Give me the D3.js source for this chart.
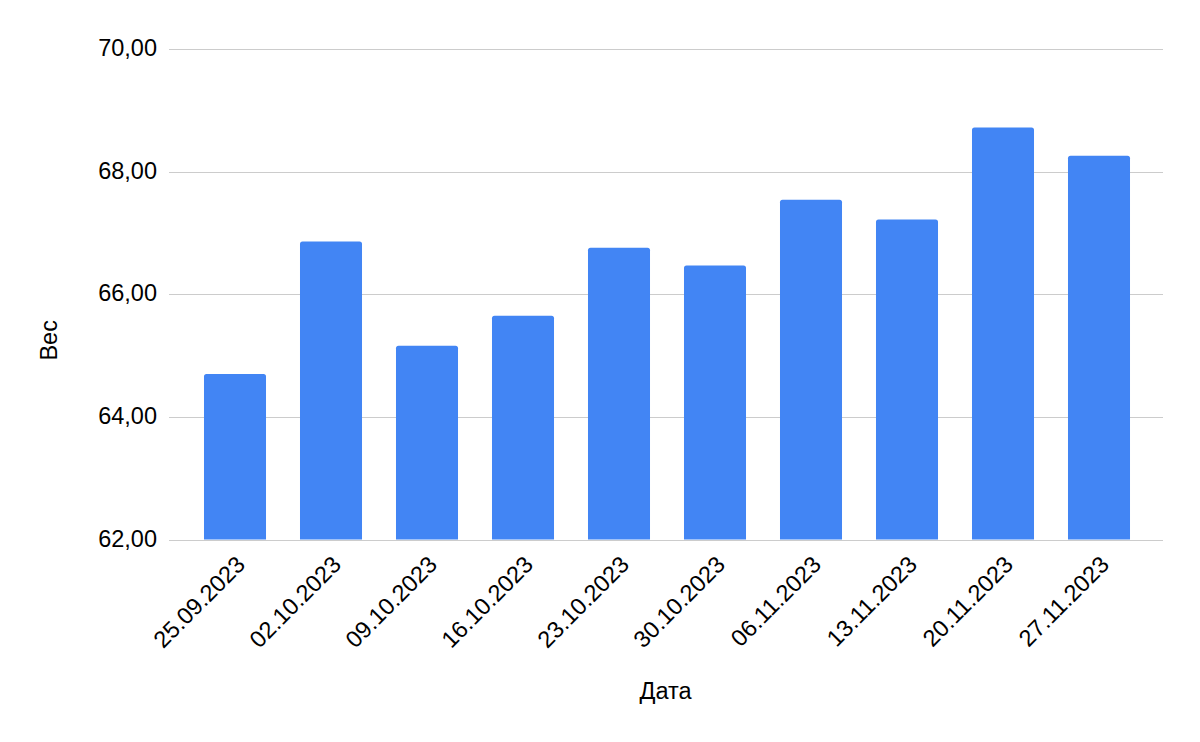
<!DOCTYPE html>
<html>
<head>
<meta charset="utf-8">
<script src="https://cdn.jsdelivr.net/npm/d3@7"></script>
<style>
  html, body { margin: 0; padding: 0; background: #fff; }
  svg { display: block; font-family: "Liberation Sans", Arial, sans-serif; }
</style>
</head>
<body>
<svg id="chart" width="1200" height="742"></svg>
<script>
const categories = ["25.09.2023", "02.10.2023", "09.10.2023", "16.10.2023", "23.10.2023",
                    "30.10.2023", "06.11.2023", "13.11.2023", "20.11.2023", "27.11.2023"];
const weights = [64.70, 66.86, 65.16, 65.65, 66.76, 66.47, 67.54, 67.22, 68.72, 68.26];
const yTicks = [62, 64, 66, 68, 70];
const xTitle = "Дата";
const yTitle = "Вес";

const svg = d3.select("#chart");
const plot = { left: 169, right: 1163, top: 49, bottom: 539.5 };
const fontSize = 23.5;

const x = d3.scaleBand()
  .domain(categories)
  .range([187, 1147])
  .paddingInner(0.354)
  .paddingOuter(0.177);

const y = d3.scaleLinear()
  .domain([62, 70])
  .range([plot.bottom, plot.top]);

const fmt = v => d3.format(".2f")(v).replace(".", ",");

// gridlines
svg.append("g")
  .selectAll("line")
  .data(yTicks)
  .join("line")
  .attr("x1", plot.left)
  .attr("x2", plot.right)
  .attr("y1", d => Math.round(y(d)) + 0.5)
  .attr("y2", d => Math.round(y(d)) + 0.5)
  .attr("stroke", "#cccccc")
  .attr("stroke-width", 1);

// y tick labels
svg.append("g")
  .selectAll("text")
  .data(yTicks)
  .join("text")
  .attr("x", 157)
  .attr("y", d => y(d))
  .attr("dy", "0.30em")
  .attr("text-anchor", "end")
  .attr("font-size", fontSize)
  .attr("fill", "#000")
  .text(fmt);

// bars with rounded top corners
const r = 2.5;
function barPath(x0, w, yTop, yBot) {
  return `M${x0},${yBot} V${yTop + r} Q${x0},${yTop} ${x0 + r},${yTop} H${x0 + w - r} Q${x0 + w},${yTop} ${x0 + w},${yTop + r} V${yBot} Z`;
}
svg.append("g")
  .selectAll("path")
  .data(categories.map((c, i) => ({ c, v: weights[i] })))
  .join("path")
  .attr("d", d => barPath(x(d.c), x.bandwidth(), y(d.v), y(62)))
  .attr("fill", "#4285f4");

// x tick labels
svg.append("g")
  .selectAll("text")
  .data(categories)
  .join("text")
  .attr("transform", d => `translate(${x(d) + x.bandwidth() / 2 + 5.4},560) rotate(-45)`)
  .attr("dy", "0.36em")
  .attr("text-anchor", "end")
  .attr("font-size", fontSize)
  .attr("fill", "#000")
  .text(d => d);

// axis titles
svg.append("text")
  .attr("x", 665.5)
  .attr("y", 699)
  .attr("text-anchor", "middle")
  .attr("font-size", fontSize)
  .attr("fill", "#000")
  .text(xTitle);

svg.append("text")
  .attr("transform", "translate(56.5,340.3) rotate(-90)")
  .attr("text-anchor", "middle")
  .attr("font-size", fontSize)
  .attr("fill", "#000")
  .text(yTitle);
</script>
</body>
</html>
